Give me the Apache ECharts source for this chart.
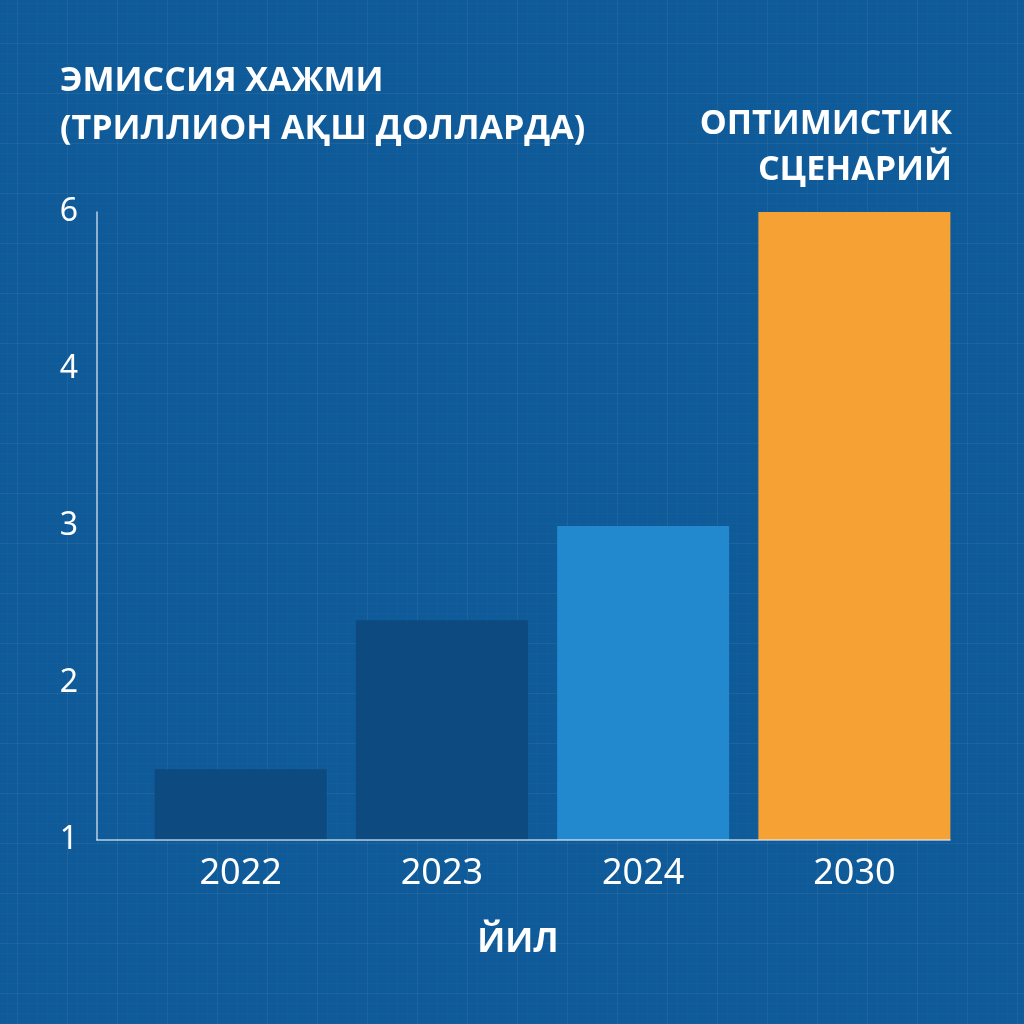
<!DOCTYPE html>
<html>
<head>
<meta charset="utf-8">
<script src="https://cdn.jsdelivr.net/npm/echarts@6/dist/echarts.min.js"></script>
<style>
  html, body { margin: 0; padding: 0; }
  #chart {
    width: 1024px; height: 1024px;
    background-color: #0f5a99;
    background-image:
      linear-gradient(to right, rgba(255,255,255,0.045) 1px, transparent 1px),
      linear-gradient(to bottom, rgba(255,255,255,0.045) 1px, transparent 1px),
      linear-gradient(to right, rgba(255,255,255,0.015) 1px, transparent 1px),
      linear-gradient(to bottom, rgba(255,255,255,0.015) 1px, transparent 1px);
    background-size: 50px 50px, 50px 50px, 10px 10px, 10px 10px;
    background-position: 17px 43px, 17px 43px, 7px 3px, 7px 3px;
  }
</style>
</head>
<body>
<div id="chart"></div>
<script>
// Emission volume, trillion USD
const years = ['2022', '2023', '2024', '2030'];
const emission = [1.45, 2.4, 3.0, 6.0];
const yTicks = [1, 2, 3, 4, 6];
const barColors = ['#0c4a7f', '#0c4a7f', '#2389cf', '#f5a133'];
const scenarioIndex = 3; // the optimistic-scenario year gets the wide orange bar

// The value axis places its ticks 1,2,3,4,6 at equal steps;
// a value between two ticks is placed linearly between them.
function toAxis(v) {
  for (let i = 0; i < yTicks.length - 1; i++) {
    if (v <= yTicks[i + 1]) return i + (v - yTicks[i]) / (yTicks[i + 1] - yTicks[i]);
  }
  return yTicks.length - 1;
}

const actualData = emission.map((v, i) => i === scenarioIndex ? '-' : toAxis(v));
const scenarioData = emission.map((v, i) => i === scenarioIndex ? toAxis(v) : '-');

const font = 'Open Sans';
const labelFont = 'Noto Sans';
const axisLineStyle = { color: 'rgba(225,235,245,0.8)', width: 1.5 };

const chart = echarts.init(document.getElementById('chart'), null, { renderer: 'canvas' });
chart.setOption({
  backgroundColor: 'transparent',
  animation: false,
  title: [
    {
      text: 'ЭМИССИЯ ХАЖМИ\n(ТРИЛЛИОН АҚШ ДОЛЛАРДА)',
      left: 60, top: 57, padding: 0,
      textStyle: { color: '#ffffff', fontFamily: font, fontWeight: 700, fontSize: 34, lineHeight: 48 }
    },
    {
      text: 'ОПТИМИСТИК\nСЦЕНАРИЙ',
      left: 952, top: 101, padding: 0, textAlign: 'right',
      textStyle: { color: '#ffffff', fontFamily: font, fontWeight: 700, fontSize: 34, lineHeight: 46, align: 'right' }
    },
    {
      text: 'ЙИЛ',
      left: 518, top: 918, padding: 0, textAlign: 'center',
      textStyle: { color: '#ffffff', fontFamily: font, fontWeight: 700, fontSize: 34, lineHeight: 48 }
    }
  ],
  grid: [
    { left: 97, right: 74, top: 212, bottom: 184, z: 5 },
    { left: 150, right: 69, top: 212, bottom: 184 }
  ],
  xAxis: [
    {
      type: 'value', gridIndex: 0, min: 0, max: 1, z: 5,
      axisLine: { show: true, lineStyle: axisLineStyle },
      axisTick: { show: false }, axisLabel: { show: false }, splitLine: { show: false }
    },
    {
      type: 'category', gridIndex: 1, data: years,
      axisLine: { show: false }, axisTick: { show: false }, splitLine: { show: false },
      axisLabel: {
        margin: 16,
        formatter: (v, i) => i === scenarioIndex ? '{w|' + v + '}' : '{n|' + v + '}',
        rich: {
          n: { color: '#ffffff', fontFamily: labelFont, fontSize: 36, padding: [0, 20, 0, 0] },
          w: { color: '#ffffff', fontFamily: labelFont, fontSize: 36 }
        }
      }
    }
  ],
  yAxis: [
    {
      type: 'value', gridIndex: 0, min: 0, max: yTicks.length - 1, interval: 1, z: 5,
      axisLine: { show: true, lineStyle: axisLineStyle },
      axisTick: { show: false }, splitLine: { show: false },
      axisLabel: {
        margin: 19, color: '#ffffff', fontFamily: labelFont, fontSize: 32,
        formatter: v => String(yTicks[v])
      }
    },
    {
      type: 'value', gridIndex: 1, min: 0, max: yTicks.length - 1, interval: 1,
      axisLine: { show: false }, axisTick: { show: false },
      axisLabel: { show: false }, splitLine: { show: false }
    }
  ],
  series: [
    {
      type: 'bar', xAxisIndex: 1, yAxisIndex: 1,
      data: actualData, barWidth: 172, barGap: '-100%',
      itemStyle: { color: p => barColors[p.dataIndex] }
    },
    {
      type: 'bar', xAxisIndex: 1, yAxisIndex: 1,
      data: scenarioData, barWidth: 192, barGap: '-100%',
      itemStyle: { color: p => barColors[p.dataIndex] }
    }
  ]
});
</script>
</body>
</html>
